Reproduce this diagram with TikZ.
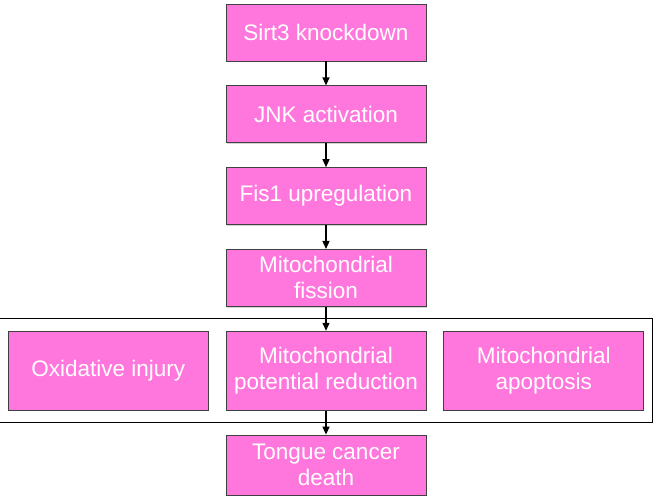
\documentclass[tikz,border=0pt]{standalone}
\usepackage{fontspec}
\setmainfont{Liberation Sans}
\usetikzlibrary{positioning,fit,arrows.meta,shadows}

\definecolor{boxpink}{RGB}{255,119,221}

\begin{document}
\begin{tikzpicture}[x=1pt, y=-1pt, node distance={24pt},
		main/.style={draw=black!75, line width=0.8pt, fill=boxpink, text=white, align=center,
			minimum width=200pt, minimum height=57pt, inner sep=2pt,
			font=\fontsize{22.5}{26}\selectfont,
			drop shadow={shadow xshift=0.6pt, shadow yshift=-1.2pt, opacity=0.35}},
		row/.style={main, minimum height=79pt},
		arr/.style={-{Triangle[width=7pt,length=8pt]}, line width=1.3pt}]
		\useasboundingbox (0,0) rectangle (657,502);

		\node[main] (1) at (326,32.5) {Sirt3 knockdown};
		\node[main] (2) [below = of 1] {JNK activation};
		\node[main] (3) [below = of 2] {Fis1 upregulation};
		\node[main] (4) [below = of 3] {Mitochondrial\\fission};
		\node[row] (6) [below = 24pt of 4] {Mitochondrial\\potential reduction};
		\node[row] (5) [left = 17pt of 6] {Oxidative injury};
		\node[row] (7) [right = 17pt of 6] {Mitochondrial\\apoptosis};
		\node[main, minimum height=60pt] (8) [below = 24pt of 6] {Tongue cancer\\death};

		\node[draw, line width=1.2pt, fit=(5)(7), inner xsep=8.5pt, inner ysep=12pt] (f) {};

		\draw[arr] (1) -- (2);
		\draw[arr] (2) -- (3);
		\draw[arr] (3) -- (4);
		\draw[arr] (4) -- (6);
		\draw[arr] (6) -- (8);
	\end{tikzpicture}
\end{document}
